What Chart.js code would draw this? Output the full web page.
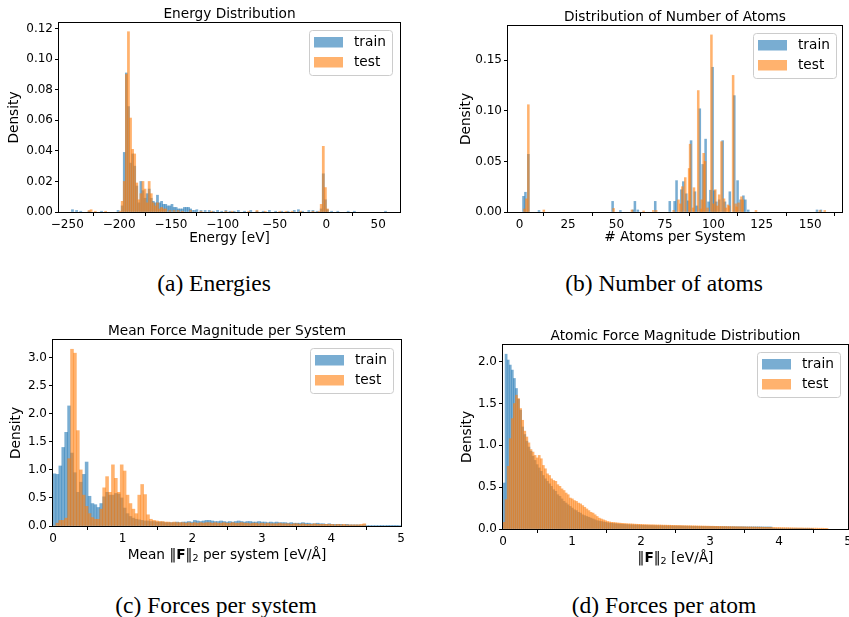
<!DOCTYPE html>
<html>
<head>
<meta charset="utf-8">
<script src="https://cdn.jsdelivr.net/npm/chart.js@4.4.0/dist/chart.umd.min.js"></script>
<style>
  html, body { margin: 0; padding: 0; background: #fff; overflow: hidden; }
  body { width: 849px; height: 617px; position: relative; }
  .panel { position: absolute; }
  .cap { position: absolute; width: 300px; line-height: 28px; font-family: 'Liberation Serif', 'Times New Roman', serif; font-size: 23.5px; text-align: center; white-space: nowrap; color: #000; }
</style>
</head>
<body>
<div class="panel" style="left:0;top:0;width:459px;height:250px"><canvas id="energyChart"></canvas></div>
<div class="panel" style="left:430px;top:0;width:490px;height:250px"><canvas id="atomsChart"></canvas></div>
<div class="panel" style="left:0;top:320px;width:454px;height:250px"><canvas id="sysForceChart"></canvas></div>
<div class="panel" style="left:430px;top:320px;width:491px;height:250px"><canvas id="atomForceChart"></canvas></div>

<div class="cap" style="left:64px;top:269px">(a) Energies</div>
<div class="cap" style="left:514px;top:269px">(b) Number of atoms</div>
<div class="cap" style="left:66px;top:591px">(c) Forces per system</div>
<div class="cap" style="left:514px;top:591px">(d) Forces per atom</div>

<script>
// 색상 / 범례
const seriesNames = ['train', 'test'];
const trainColor = 'rgba(31,119,180,0.6)';
const testColor = 'rgba(255,127,14,0.6)';

// (a) 에너지 분포 - 빈 중심 [eV], 밀도
const energyTrainX = [-245, -241, -237, -229, -217, -201, -197,
  -195, -193, -191, -189, -187, -185, -183, -181, -179, -177, -175, -173, -171, -169, -167, -165, -163, -161,
  -159, -157, -155, -153, -151, -149, -147, -145, -143, -141, -139, -137, -135, -133, -131, -129, -127, -125,
  -121, -117, -113, -109, -105, -101, -97, -93, -89, -85,
  -79, -73, -67, -61, -55, -49, -43, -37, -31,
  -27, -23, -17, -13, -9, -5, -3, -1, 1, 5, 11, 21, 27, 57];
const energyTrainY = [0.0015, 0.001, 0.0005, 0.0005, 0.0005, 0.001, 0.004,
  0.039, 0.091, 0.069, 0.032, 0.038, 0.030, 0.017, 0.006, 0.020, 0.014, 0.009, 0.012, 0.015, 0.009, 0.007, 0.006, 0.011, 0.006,
  0.007, 0.005, 0.005, 0.004, 0.004, 0.005, 0.003, 0.003, 0.002, 0.002, 0.002, 0.003, 0.003, 0.003, 0.002, 0.001, 0.001, 0.0015,
  0.001, 0.001, 0.001, 0.0005, 0.001, 0.0005, 0.001, 0.0005, 0.0005, 0.001,
  0.0005, 0.001, 0.0005, 0.0005, 0.001, 0.0005, 0.0005, 0.0005, 0.001,
  0.0015, 0.0005, 0.001, 0.001, 0.0005, 0.002, 0.025, 0.008, 0.0015, 0.0005, 0.0005, 0.0005, 0.0005, 0.0005];
const energyTestX = [-229, -227, -223, -213, -199,
  -197, -195, -193, -191, -189, -187, -185, -183, -181, -179, -177, -175, -173, -171, -169, -167, -165, -163, -161, -159, -157, -155,
  -151, -147, -143, -139, -131, -121, -111, -97, -91, -75, -67, -59, -45, -39, -33, -25, -13, -7,
  -5, -3, -1, 1];
const energyTestY = [0.001, 0.0015, 0.0005, 0.0005, 0.0005,
  0.007, 0.02, 0.09, 0.118, 0.0615, 0.041, 0.038, 0.019, 0.008, 0.012, 0.02, 0.015, 0.006, 0.020, 0.012, 0.006, 0.004, 0.006, 0.002, 0.003, 0.002, 0.002,
  0.001, 0.001, 0.001, 0.0005, 0.001, 0.0005, 0.0005, 0.0005, 0.0005, 0.0005, 0.001, 0.0005, 0.0005, 0.0005, 0.0005, 0.0005, 0.0005, 0.0005,
  0.005, 0.043, 0.016, 0.002];
const energyXTicks = [-250, -200, -150, -100, -50, 0, 50];
const energyYTicks = [0, 0.02, 0.04, 0.06, 0.08, 0.10, 0.12];

// (b) 원자 수 분포
const atomsTrainX = [2, 3, 4.5, 10, 48, 52, 58.5, 59.5, 61, 70,
  77.5, 80, 81, 83.5, 84.5, 86, 87, 88.5, 90.5, 91.5,
  93, 94.5, 96, 97.5, 98.5, 99.6, 100.5, 101.5, 103, 104.8,
  106, 108.5, 110.8, 112.5, 114, 115.5, 116.5, 118, 153.5, 155.5];
const atomsTrainY = [0.0155, 0.0195, 0.057, 0.0015, 0.0105, 0.0015, 0.002, 0.0105, 0.002, 0.0105,
  0.0105, 0.0105, 0.031, 0.022, 0.030, 0.018, 0.011, 0.0705, 0.02, 0.006,
  0.102, 0.047, 0.072, 0.01, 0.0215, 0.143, 0.021, 0.01, 0.012, 0.0705,
  0.01, 0.02, 0.115, 0.031, 0.012, 0.016, 0.012, 0.002, 0.002, 0.002];
const atomsTestX = [2.5, 3.5, 4.5, 12.5, 48.5, 58, 64, 69, 70.5, 79.5,
  82, 83, 84, 85.5, 87.5, 88, 89.5, 90, 92.2, 93.5,
  94, 95, 95.7, 97, 99, 100, 101, 102, 103, 104.2,
  105.5, 106.5, 107.5, 108.2, 110.2, 111.5, 112, 113, 114.5, 115.2,
  122, 155, 157.5];
const atomsTestY = [0.003, 0.013, 0.106, 0.002, 0.0035, 0.002, 0.001, 0.0015, 0.0015, 0.0015,
  0.012, 0.008, 0.025, 0.034, 0.043, 0.067, 0.004, 0.024, 0.12, 0.003,
  0.012, 0.058, 0.05, 0.004, 0.175, 0.008, 0.022, 0.006, 0.017, 0.0695,
  0.013, 0.004, 0.007, 0.006, 0.135, 0.008, 0.005, 0.009, 0.015, 0.012,
  0.0015, 0.0015, 0.0015];
const atomsXTicks = [0, 25, 50, 75, 100, 125, 150];
const atomsYTicks = [0, 0.05, 0.10, 0.15];

// (c) 시스템별 평균 힘 - 빈 폭 0.042 eV/Å, 0부터
const sysForceBin = 0.042;
const sysForceTrain = [
  0.93, 0.92, 1.07, 1.40, 1.67, 2.14, 1.3, 0.95, 0.6, 0.78,
  0.92, 1.14, 0.53, 0.4, 0.38, 0.33, 0.4, 0.52, 0.6, 0.55,
  0.55, 0.58, 0.57, 0.5, 0.32, 0.22, 0.17, 0.14, 0.12, 0.11,
  0.1, 0.09, 0.09, 0.08, 0.08, 0.07, 0.07, 0.07, 0.06, 0.06,
  0.06, 0.06, 0.07, 0.06, 0.07, 0.07, 0.08, 0.07, 0.1, 0.09,
  0.08, 0.09, 0.1, 0.1, 0.09, 0.08, 0.08, 0.09, 0.08, 0.07,
  0.08, 0.07, 0.08, 0.09, 0.08, 0.07, 0.08, 0.08, 0.07, 0.07,
  0.08, 0.07, 0.07, 0.06, 0.07, 0.06, 0.07, 0.06, 0.06, 0.06,
  0.05, 0.06, 0.05, 0.05, 0.05, 0.06, 0.05, 0.05, 0.04, 0.04,
  0.05, 0.04, 0.04, 0.03, 0.04, 0.03, 0.03, 0.03, 0.03, 0.02,
  0.03, 0.02, 0.02, 0.02, 0.02, 0.01, 0.02, 0.01, 0.01, 0.01,
  0.01, 0.01, 0.005, 0.01, 0.005, 0.005, 0.005, 0.005, 0.01];
const sysForceTest = [
  0, 0.05, 0.1, 0.1, 0.14, 1.2, 3.15, 3.08, 1.7, 1.0,
  0.55, 0.35, 0.22, 0.15, 0.12, 0.12, 0.3, 0.68, 0.88, 0.6,
  1.09, 0.85, 0.6, 1.09, 0.98, 0.55, 0.4, 0.3, 0.22, 0.55,
  0.74, 0.56, 0.2, 0.12, 0.1, 0.09, 0.08, 0.08, 0.07, 0.07,
  0.06, 0.07, 0.06, 0.06, 0.06, 0.05, 0.06, 0.05, 0.06, 0.05,
  0.06, 0.05, 0.06, 0.06, 0.05, 0.06, 0.05, 0.05, 0.06, 0.05,
  0.05, 0.06, 0.05, 0.05, 0.06, 0.05, 0.05, 0.04, 0.05, 0.05,
  0.04, 0.05, 0.04, 0.05, 0.04, 0.04, 0.04, 0.05, 0.04, 0.04,
  0.04, 0.03, 0.04, 0.04, 0.03, 0.04, 0.03, 0.03, 0.03, 0.04,
  0.03, 0.03, 0.03, 0.03, 0.03, 0.03, 0.02, 0.03, 0.02, 0.03,
  0.02, 0.02, 0.02, 0.02, 0.02, 0.03, 0.04];
const forceXTicks = [0, 1, 2, 3, 4, 5];
const sysForceYTicks = [0, 0.5, 1.0, 1.5, 2.0, 2.5, 3.0];

// (d) 원자별 힘 - 빈 폭 0.03 eV/Å, 0부터
const atomForceBin = 0.03;
const atomForceTrain = [
  0.55, 2.09, 2.02, 1.96, 1.9, 1.8, 1.68, 1.55, 1.42, 1.22,
  1.13, 1.05, 0.98, 0.93, 0.87, 0.82, 0.77, 0.73, 0.69, 0.64,
  0.6, 0.57, 0.54, 0.51, 0.47, 0.45, 0.41, 0.39, 0.36, 0.33,
  0.31, 0.29, 0.27, 0.25, 0.23, 0.22, 0.2, 0.19, 0.17, 0.16,
  0.15, 0.14, 0.13, 0.12, 0.11, 0.1, 0.095, 0.09, 0.085, 0.08,
  0.075, 0.07, 0.068, 0.065, 0.063, 0.06, 0.058, 0.056, 0.055, 0.053,
  0.052, 0.05, 0.049, 0.048, 0.047, 0.046, 0.045, 0.044, 0.044, 0.043,
  0.042, 0.042, 0.041, 0.04, 0.04, 0.039, 0.039, 0.038, 0.038, 0.037,
  0.037, 0.036, 0.036, 0.035, 0.035, 0.035, 0.034, 0.034, 0.033, 0.033,
  0.033, 0.032, 0.032, 0.032, 0.031, 0.031, 0.031, 0.03, 0.03, 0.03,
  0.03, 0.029, 0.029, 0.029, 0.028, 0.028, 0.028, 0.028, 0.027, 0.027,
  0.027, 0.027, 0.026, 0.026, 0.026, 0.026, 0.026, 0.025, 0.025, 0.025,
  0.025, 0.025, 0.025, 0.025, 0.025, 0.024, 0.024, 0.024, 0.024, 0.024,
  0.01, 0.008, 0.008, 0.007, 0.007, 0.006, 0.006, 0.006, 0.005, 0.005,
  0.005, 0.004, 0.004, 0.004, 0.004, 0.003, 0.003, 0.003, 0.003, 0.003];
const atomForceTest = [
  0.08, 0.35, 0.75, 1.08, 1.32, 1.5, 1.6, 1.56, 1.44, 1.3,
  1.17, 1.1, 1.03, 0.95, 0.92, 0.88, 0.85, 0.88, 0.84, 0.76,
  0.72, 0.66, 0.64, 0.6, 0.58, 0.57, 0.53, 0.51, 0.48, 0.46,
  0.43, 0.41, 0.37, 0.36, 0.34, 0.33, 0.31, 0.3, 0.28, 0.26,
  0.24, 0.22, 0.2, 0.19, 0.17, 0.15, 0.13, 0.12, 0.11, 0.1,
  0.09, 0.085, 0.08, 0.078, 0.075, 0.072, 0.07, 0.068, 0.066, 0.064,
  0.062, 0.061, 0.06, 0.058, 0.057, 0.056, 0.055, 0.054, 0.053, 0.052,
  0.051, 0.05, 0.05, 0.049, 0.048, 0.048, 0.047, 0.046, 0.046, 0.045,
  0.045, 0.044, 0.043, 0.043, 0.042, 0.042, 0.041, 0.04, 0.04, 0.039,
  0.039, 0.038, 0.038, 0.037, 0.036, 0.036, 0.035, 0.035, 0.034, 0.034,
  0.033, 0.033, 0.032, 0.032, 0.031, 0.031, 0.03, 0.03, 0.029, 0.029,
  0.028, 0.028, 0.027, 0.027, 0.026, 0.026, 0.025, 0.025, 0.024, 0.024,
  0.023, 0.023, 0.022, 0.022, 0.021, 0.021, 0.02, 0.02, 0.019, 0.019,
  0.018, 0.018, 0.017, 0.017, 0.016, 0.016, 0.015, 0.015, 0.014, 0.014,
  0.013, 0.013, 0.012, 0.012, 0.012, 0.011, 0.011, 0.011, 0.01, 0.01,
  0.01, 0.01, 0.009, 0.009, 0.009, 0.008, 0.008];
const atomForceYTicks = [0, 0.5, 1.0, 1.5, 2.0];

// 힘 축 제목 (굵은 F, 아래첨자 2)
const sysForceXTitle = [{ text: 'Mean \u2016' }, { text: 'F', bold: true }, { text: '\u2016' }, { text: '2', sub: true }, { text: ' per system [eV/\u00c5]' }];
const atomForceXTitle = [{ text: '\u2016' }, { text: 'F', bold: true }, { text: '\u2016' }, { text: '2', sub: true }, { text: ' [eV/\u00c5]' }];

Chart.defaults.font.family = '"DejaVu Sans", sans-serif';
Chart.defaults.color = '#000';

const pairs = (xs, ys) => ys.map((y, i) => ({ x: xs[i], y }));
const binned = (w, ys) => ys.map((y, i) => ({ x: w * (i + 0.5), y }));
const fmt = (v, d) => v.toFixed(d).replace('-', '\u2212');

// 축 테두리(4면)
const frame = {
  id: 'frame',
  afterDatasetsDraw(chart) {
    const { ctx, chartArea: a } = chart;
    ctx.save();
    ctx.strokeStyle = '#000';
    ctx.lineWidth = 1;
    ctx.strokeRect(a.left - 0.5, a.top - 0.5, a.right - a.left + 1, a.bottom - a.top + 1);
    ctx.restore();
  },
};

// matplotlib 스타일 범례 (오른쪽 위, 축 안쪽)
const boxLegend = {
  id: 'boxLegend',
  afterDatasetsDraw(chart, args, opts) {
    const { ctx, chartArea: a } = chart;
    const w = 83, h = 45;
    const x = Math.round(a.right - opts.right - w), y = Math.round(a.top + opts.top);
    ctx.save();
    ctx.beginPath();
    ctx.roundRect(x + 0.5, y + 0.5, w, h, 3);
    ctx.fillStyle = 'rgba(255,255,255,0.8)';
    ctx.fill();
    ctx.strokeStyle = '#cccccc';
    ctx.lineWidth = 1;
    ctx.stroke();
    ctx.font = '13.7px "DejaVu Sans"';
    ctx.textBaseline = 'middle';
    chart.data.datasets.forEach((ds, i) => {
      ctx.fillStyle = ds.backgroundColor;
      ctx.fillRect(x + 5, y + 7 + i * 20, 29, 10.5);
      ctx.fillStyle = '#000';
      ctx.fillText(ds.label, x + 45, y + 12.5 + i * 20);
    });
    ctx.restore();
  },
};

// 여러 글꼴이 섞인 x축 제목
const richXTitle = {
  id: 'richXTitle',
  afterDraw(chart, args, opts) {
    if (!opts.parts) return;
    const { ctx, chartArea: a } = chart;
    const size = 13.7;
    const fontOf = (p) => (p.bold ? 'bold ' : '') + (p.sub ? size * 0.7 : size) + 'px "DejaVu Sans"';
    ctx.save();
    ctx.textBaseline = 'middle';
    ctx.fillStyle = '#000';
    let total = 0;
    opts.parts.forEach((p) => { ctx.font = fontOf(p); total += ctx.measureText(p.text).width; });
    let x = (a.left + a.right) / 2 - total / 2;
    opts.parts.forEach((p) => {
      ctx.font = fontOf(p);
      ctx.fillText(p.text, x, opts.y + (p.sub ? 3 : 0));
      x += ctx.measureText(p.text).width;
    });
    ctx.restore();
  },
};

function makePanel(id, c) {
  const titleFont = { size: 13.7, weight: 'normal' };
  const plainXTitle = typeof c.xTitle === 'string';
  new Chart(document.getElementById(id), {
    type: 'bar',
    data: {
      datasets: [
        { label: seriesNames[0], data: c.train, backgroundColor: trainColor, order: 2 },
        { label: seriesNames[1], data: c.test, backgroundColor: testColor, order: 1 },
      ],
    },
    options: {
      responsive: true,
      maintainAspectRatio: false,
      animation: false,
      grouped: false,
      barThickness: c.barW,
      borderWidth: 0,
      layout: { padding: 0 },
      plugins: {
        legend: { display: false },
        tooltip: { enabled: false },
        title: { display: true, text: c.title, color: '#000', font: titleFont, padding: { top: c.titlePt, bottom: c.titleH - c.titlePt - 16.44 } },
        boxLegend: { right: c.legR, top: c.legT },
        richXTitle: { parts: plainXTitle ? null : c.xTitle, y: c.xH + (250 - c.xH) - 8.22 - c.xTitlePb },
      },
      scales: {
        x: {
          type: 'linear',
          min: c.xMin, max: c.xMax,
          offset: false,
          grid: { drawOnChartArea: false, drawTicks: true, tickLength: 4, tickColor: '#000' },
          border: { display: false },
          afterBuildTicks: (s) => { s.ticks = c.xTicks.map((v) => ({ value: v })); },
          afterFit: (s) => { s.height = c.xH; },
          ticks: { autoSkip: false, maxRotation: 0, padding: 2, font: { size: 12 }, callback: (v) => fmt(v, c.xDec) },
          title: { display: plainXTitle, text: plainXTitle ? c.xTitle : '', font: { size: 13.7 }, padding: { top: 0, bottom: c.xTitlePb } },
        },
        y: {
          min: 0, max: c.yMax,
          grid: { drawOnChartArea: false, drawTicks: true, tickLength: 4, tickColor: '#000' },
          border: { display: false },
          afterBuildTicks: (s) => { s.ticks = c.yTicks.map((v) => ({ value: v })); },
          afterFit: (s) => { s.width = c.yW; },
          ticks: { padding: 2, font: { size: 12 }, callback: (v) => fmt(v, c.yDec) },
          title: { display: true, text: 'Density', font: { size: 13.7 }, padding: { top: c.yTitlePt, bottom: 0 } },
        },
        // 오른쪽 여백용 빈 축 (제목을 축 중앙에 두기 위해)
        pad: {
          position: 'right',
          display: true,
          grid: { display: false },
          border: { display: false },
          ticks: { display: false },
          afterFit: (s) => { s.width = c.padR; },
        },
      },
    },
    plugins: [frame, boxLegend, richXTitle],
  });
}

makePanel('energyChart', {
  title: 'Energy Distribution', xTitle: 'Energy [eV]',
  train: pairs(energyTrainX, energyTrainY), test: pairs(energyTestX, energyTestY),
  xMin: -258, xMax: 71, xTicks: energyXTicks, xDec: 0,
  yMax: 0.1237, yTicks: energyYTicks, yDec: 2,
  barW: 2.1, yW: 59, titleH: 23, titlePt: 6.5, xH: 38, xTitlePb: 3, yTitlePt: 6.7, padR: 59, legR: 8, legT: 7,
});

makePanel('atomsChart', {
  title: 'Distribution of Number of Atoms', xTitle: '# Atoms per System',
  train: pairs(atomsTrainX, atomsTrainY), test: pairs(atomsTestX, atomsTestY),
  xMin: -6, xMax: 166.4, xTicks: atomsXTicks, xDec: 0,
  yMax: 0.1838, yTicks: atomsYTicks, yDec: 2,
  barW: 1.9, yW: 78, titleH: 26, titlePt: 9.4, xH: 38, xTitlePb: 4.4, yTitlePt: 28.4, padR: 78, legR: 6, legT: 7,
});

makePanel('sysForceChart', {
  title: 'Mean Force Magnitude per System', xTitle: sysForceXTitle,
  train: binned(sysForceBin, sysForceTrain), test: binned(sysForceBin, sysForceTest),
  xMin: 0, xMax: 5, xTicks: forceXTicks, xDec: 0,
  yMax: 3.315, yTicks: sysForceYTicks, yDec: 1,
  barW: 2.92, yW: 53, titleH: 20, titlePt: 3.3, xH: 44, xTitlePb: 6.7, yTitlePt: 8.4, padR: 53, legR: 8, legT: 8,
});

makePanel('atomForceChart', {
  title: 'Atomic Force Magnitude Distribution', xTitle: atomForceXTitle,
  train: binned(atomForceBin, atomForceTrain), test: binned(atomForceBin, atomForceTest),
  xMin: 0, xMax: 5, xTicks: forceXTicks, xDec: 0,
  yMax: 2.2, yTicks: atomForceYTicks, yDec: 1,
  barW: 2.07, yW: 73, titleH: 25, titlePt: 8.3, xH: 41, xTitlePb: 3.4, yTitlePt: 29.4, padR: 73, legR: 8, legT: 7,
});
</script>
</body>
</html>
